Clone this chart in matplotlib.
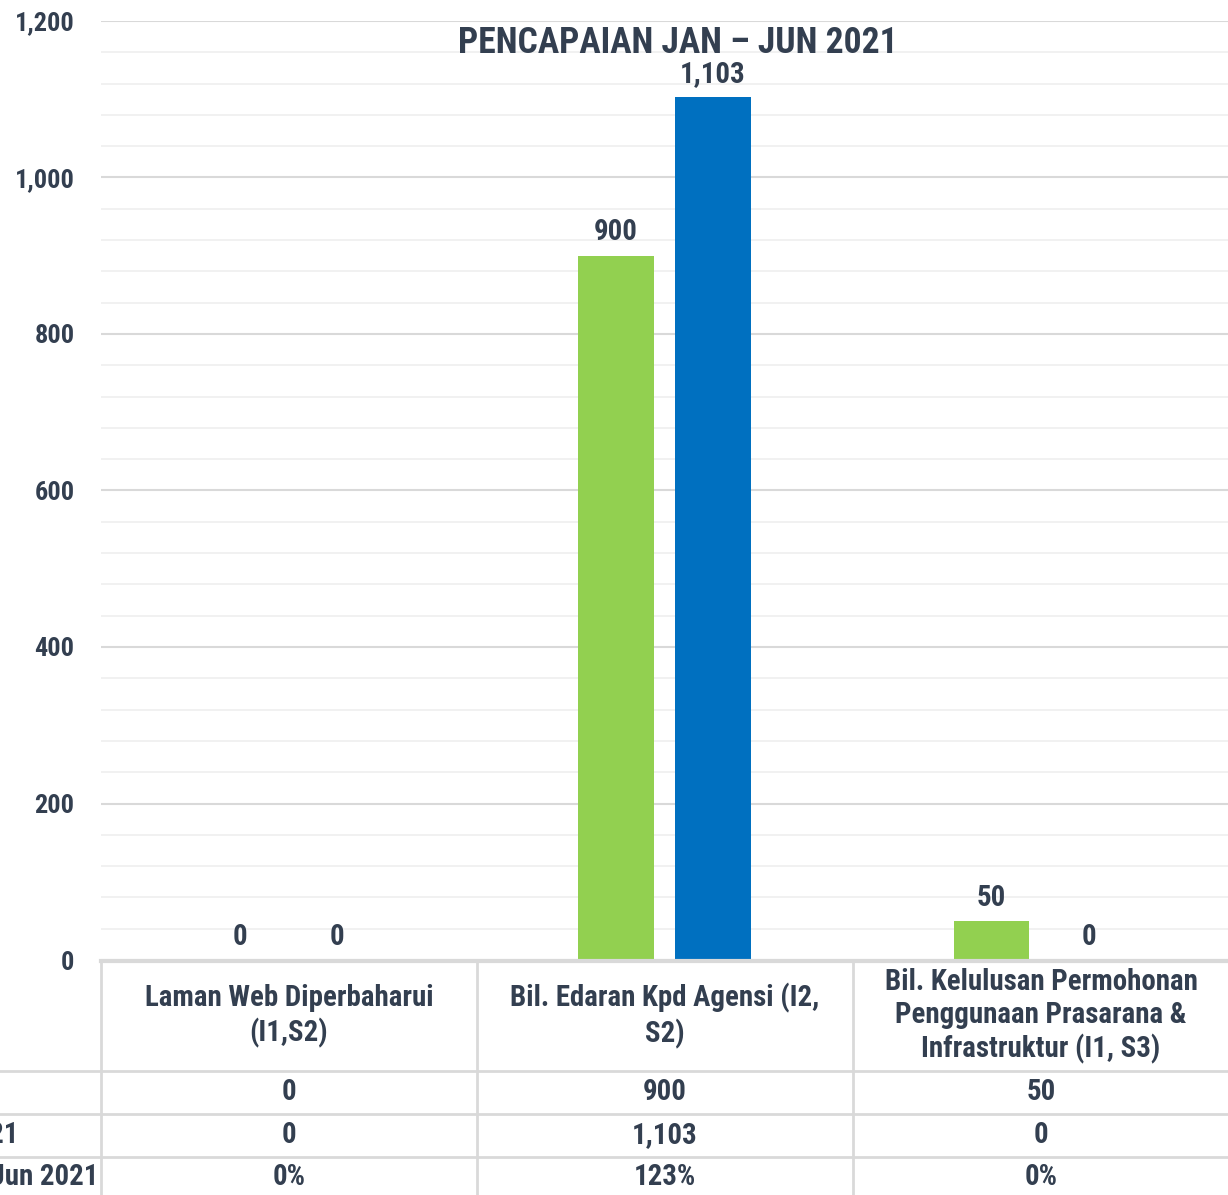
import matplotlib
matplotlib.use('Agg')
import matplotlib.pyplot as plt
from matplotlib.lines import Line2D
import numpy as np

categories = ['Laman Web Diperbaharui\n(I1,S2)',
              'Bil. Edaran Kpd Agensi (I2,\nS2)',
              'Bil. Kelulusan Permohonan\nPenggunaan Prasarana &\nInfrastruktur (I1, S3)']
sasaran = [0, 900, 50]
pencapaian = [0, 1103, 0]
peratus = ['0%', '123%', '0%']
row_labels = ['Sasaran Jan – Jun 2021', 'Pencapaian Jan – Jun 2021', '% Pencapaian Jan – Jun 2021']
title = 'PENCAPAIAN JAN – JUN 2021'

plt.rcParams['font.family'] = ['Roboto Condensed', 'Liberation Sans', 'DejaVu Sans']
plt.rcParams['font.weight'] = 'bold'
txt = '#333F50'
grid_major = '#D9D9D9'
grid_minor = '#F0F0F0'
fs = 20.8

W, H = 1228, 1195
fig = plt.figure(figsize=(W/100, H/100), dpi=100)

def fx(x):
    return x / W

def fy(y):
    return 1 - y / H

ax = fig.add_axes([fx(101), fy(960), (1228-101)/W, (960-21)/H])

x = np.arange(len(categories))
off = 0.129
bw = 0.2
b1 = ax.bar(x - off, sasaran, bw, color='#92D050', zorder=3)
b2 = ax.bar(x + off, pencapaian, bw, color='#0070C0', zorder=3)

for bars, vals in ((b1, sasaran), (b2, pencapaian)):
    for r, v in zip(bars, vals):
        ax.annotate(f'{v:,}', (r.get_x() + r.get_width()/2, v), xytext=(0, 11),
                    textcoords='offset points', ha='center', va='baseline',
                    fontsize=fs, color=txt, fontweight='bold', zorder=4)

ax.set_xlim(-0.5, 2.5)
ax.set_ylim(0, 1200)
ax.set_yticks(np.arange(0, 1201, 200))
ax.set_yticks(np.arange(0, 1201, 40), minor=True)
ax.set_yticklabels([f'{v:,}' for v in range(0, 1201, 200)], fontsize=19,
                   color=txt, fontweight='bold')
ax.tick_params(axis='y', which='both', length=0, pad=19)
ax.set_xticks([])
ax.grid(axis='y', which='major', color=grid_major, lw=1.5, zorder=0)
ax.grid(axis='y', which='minor', color=grid_minor, lw=1.3, zorder=0)
for s in ax.spines.values():
    s.set_visible(False)

fig.text(fx(678), fy(43), title, ha='center', va='center', fontsize=25.7,
         color=txt, fontweight='bold')

# data table under the plot
line_c = '#D9D9D9'
fig.add_artist(Line2D([fx(101), fx(1228)], [fy(961), fy(961)], color=line_c, lw=3,
                      transform=fig.transFigure))
for yy in (1071, 1114, 1157):
    fig.add_artist(Line2D([0, 1], [fy(yy), fy(yy)], color=line_c, lw=2,
                          transform=fig.transFigure))
for xx in (101, 477, 853):
    fig.add_artist(Line2D([fx(xx), fx(xx)], [fy(961), 0], color=line_c, lw=2,
                          transform=fig.transFigure))

col_centers = [289, 665, 1041]
for cx, cat in zip(col_centers, categories):
    fig.text(fx(cx), fy(1016), cat, ha='center', va='center', fontsize=fs,
             color=txt, fontweight='bold', linespacing=1.24)

row_y = [1092, 1135, 1177]
rows = [[f'{v:,}' for v in sasaran], [f'{v:,}' for v in pencapaian], peratus]
for ry, vals in zip(row_y, rows):
    for cx, v in zip(col_centers, vals):
        fig.text(fx(cx), fy(ry), v, ha='center', va='center', fontsize=fs,
                 color=txt, fontweight='bold')

label_end = [-20, 18, 98]
for ry, lab, xe in zip(row_y, row_labels, label_end):
    fig.text(fx(xe), fy(ry), lab, ha='right', va='center', fontsize=fs,
             color=txt, fontweight='bold')

fig.savefig('out.png', dpi=100)
